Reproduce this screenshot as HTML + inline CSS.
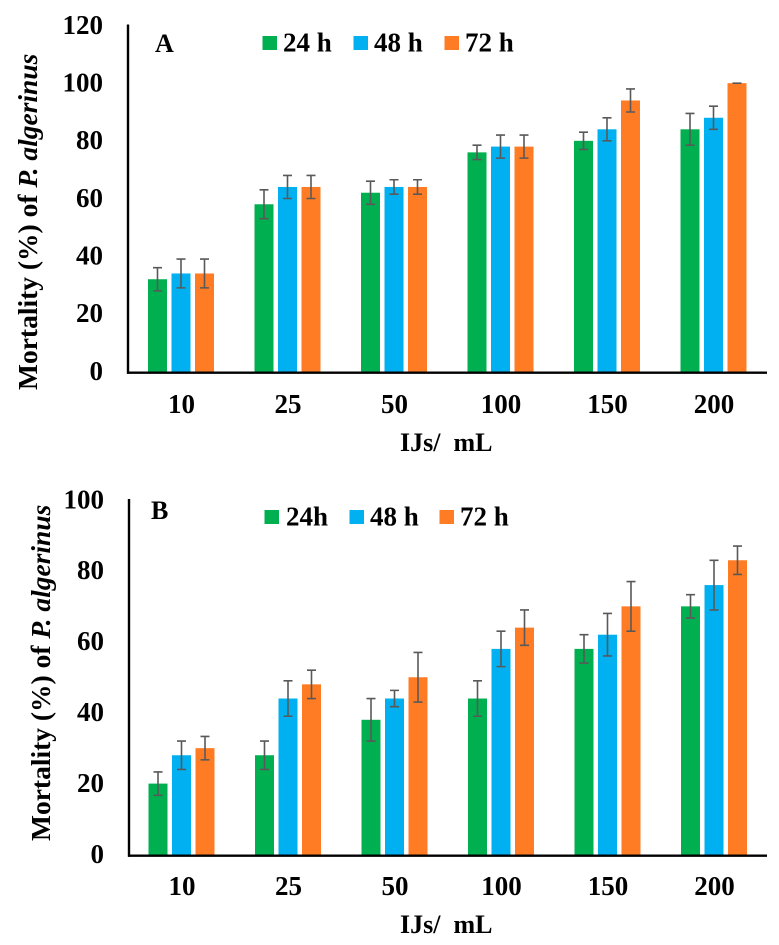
<!DOCTYPE html>
<html lang="en">
<head>
<meta charset="utf-8">
<title>Mortality of P. algerinus</title>
<style>
html,body{margin:0;padding:0;background:#fff;width:779px;height:945px;overflow:hidden}
svg{display:block;filter:blur(0.35px)}
text{font-family:"Liberation Serif",serif;font-weight:bold;fill:#000}
</style>
</head>
<body>
<svg id="figure" xmlns="http://www.w3.org/2000/svg" width="779" height="945" viewBox="0 0 779 945"></svg>
<script>
var categories = ['10', '25', '50', '100', '150', '200'];

var ticksA = [0, 20, 40, 60, 80, 100, 120];
var a24 = [32, 58, 62, 76, 80, 84];
var a48 = [34, 64, 64, 78, 84, 88];
var a72 = [34, 64, 64, 78, 94, 100];
var a24Err = [4, 5, 4, 2.5, 3, 5.5];
var a48Err = [5, 4, 2.5, 4, 4, 4];
var a72Err = [5, 4, 2.5, 4, 4, 0];
var legendA = ['24 h', '48 h', '72 h'];

var ticksB = [0, 20, 40, 60, 80, 100];
var b24 = [20, 28, 38, 44, 58, 70];
var b48 = [28, 44, 44, 58, 62, 76];
var b72 = [30, 48, 50, 64, 70, 83];
var b24Err = [3.3, 4, 6, 5, 4, 3.3];
var b48Err = [4, 5, 2.3, 5, 6, 7];
var b72Err = [3.3, 4, 7, 5, 7, 4];
var legendB = ['24h', '48 h', '72 h'];

var seriesColors = ['#00b050', '#00b0f0', '#ff7c24'];
var NS = 'http://www.w3.org/2000/svg';
var root = document.getElementById('figure');

function make(tag, attrs, parent, content) {
  var el = document.createElementNS(NS, tag);
  for (var k in attrs) { el.setAttribute(k, attrs[k]); }
  if (content !== undefined) { el.textContent = content; }
  parent.appendChild(el);
  return el;
}

function drawPanel(cfg) {
  var g = make('g', {}, root);
  
  

  function yScale(v) { return cfg.y0 - (v / cfg.max) * (cfg.y0 - cfg.yTop); }
  function xCenter(i) { return cfg.xFirst + i * 106.5; }

  // bars
  for (var s = 0; s < cfg.series.length; s++) {
    for (var i = 0; i < categories.length; i++) {
      var v = cfg.series[s][i];
      var cx = xCenter(i) + (s - 1) * 23.5;
      var bar = make('rect', {x: cx - 9.5, y: yScale(v), width: 19, height: cfg.y0 - yScale(v), fill: seriesColors[s]}, g);
      
      
    }
  }
  // error bars
  for (var s2 = 0; s2 < cfg.series.length; s2++) {
    for (var j = 0; j < categories.length; j++) {
      var val = cfg.series[s2][j];
      var err = cfg.errors[s2][j];
      var ex = xCenter(j) + (s2 - 1) * 23.5;
      var top = yScale(val + err);
      var bottom = yScale(val - err);
      var eb = make('path', {
        d: 'M' + ex + ' ' + top + 'V' + bottom + 'M' + (ex - 4.5) + ' ' + top + 'H' + (ex + 4.5) + 'M' + (ex - 4.5) + ' ' + bottom + 'H' + (ex + 4.5),
        stroke: '#595959', 'stroke-width': 1.6, fill: 'none'
      }, g);
      
      
    }
  }

  // axes
  var yAxis = make('line', {x1: cfg.xAxis, x2: cfg.xAxis, y1: cfg.yTop - 1, y2: cfg.y0 + 2.2, stroke: '#000', 'stroke-width': 2.4}, g);
  
  
  var xAxis = make('line', {x1: cfg.xAxis - 1, x2: 767, y1: cfg.y0 + 1.2, y2: cfg.y0 + 1.2, stroke: '#000', 'stroke-width': 2.4}, g);
  
  

  // y tick labels
  cfg.ticks.forEach(function (t) {
    var label = make('text', {x: cfg.tickRight, y: yScale(t) + 8.3, 'text-anchor': 'end', 'font-size': 27}, g, String(t));
    
    
  });

  // x tick labels
  categories.forEach(function (c, i) {
    var label = make('text', {x: xCenter(i) + 0.5, y: cfg.xTickY, 'text-anchor': 'middle', 'font-size': 27}, g, c);
    
    
  });

  // x title
  var xTitle = make('text', {x: cfg.xTitleX, y: cfg.xTitleY, 'font-size': 26, style: 'white-space:pre'}, g, 'IJs/  mL');
  
  

  // y title
  var yTitle = make('text', {transform: 'translate(' + cfg.yTitleX + ' ' + cfg.yTitleY + ') rotate(-90)', 'font-size': 27.5}, g);
  
  
  make('tspan', {}, yTitle, 'Mortality (%) of ');
  make('tspan', {'font-style': 'italic'}, yTitle, 'P. algerinus');

  // panel letter
  var letter = make('text', {x: cfg.letterX, y: cfg.letterY, 'font-size': 26}, g, cfg.id);
  
  

  // legend
  cfg.legend.forEach(function (name, i) {
    var entry = make('g', {}, g);
    
    
    make('rect', {x: cfg.legendSwatchX[i], y: cfg.legendY - 15.5, width: 14.5, height: 14, fill: seriesColors[i]}, entry);
    make('text', {x: cfg.legendTextX[i], y: cfg.legendY, 'font-size': 27}, entry, name);
  });
}

drawPanel({
  id: 'A', max: 120, y0: 371.5, yTop: 25.5, xAxis: 128, xFirst: 181,
  ticks: ticksA, series: [a24, a48, a72], errors: [a24Err, a48Err, a72Err], legend: legendA,
  tickRight: 103, xTickY: 413, xTitleX: 400, xTitleY: 451,
  yTitleX: 37, yTitleY: 390, letterX: 155, letterY: 52,
  legendSwatchX: [262.5, 353.5, 444.5], legendTextX: [283, 374, 465], legendY: 51.5
});

drawPanel({
  id: 'B', max: 100, y0: 854.5, yTop: 500, xAxis: 129, xFirst: 181.5,
  ticks: ticksB, series: [b24, b48, b72], errors: [b24Err, b48Err, b72Err], legend: legendB,
  tickRight: 104, xTickY: 895, xTitleX: 400, xTitleY: 933,
  yTitleX: 50, yTitleY: 841, letterX: 151, letterY: 519,
  legendSwatchX: [264.5, 349.5, 439.5], legendTextX: [286, 370, 460], legendY: 525.5
});
</script>
</body>
</html>
